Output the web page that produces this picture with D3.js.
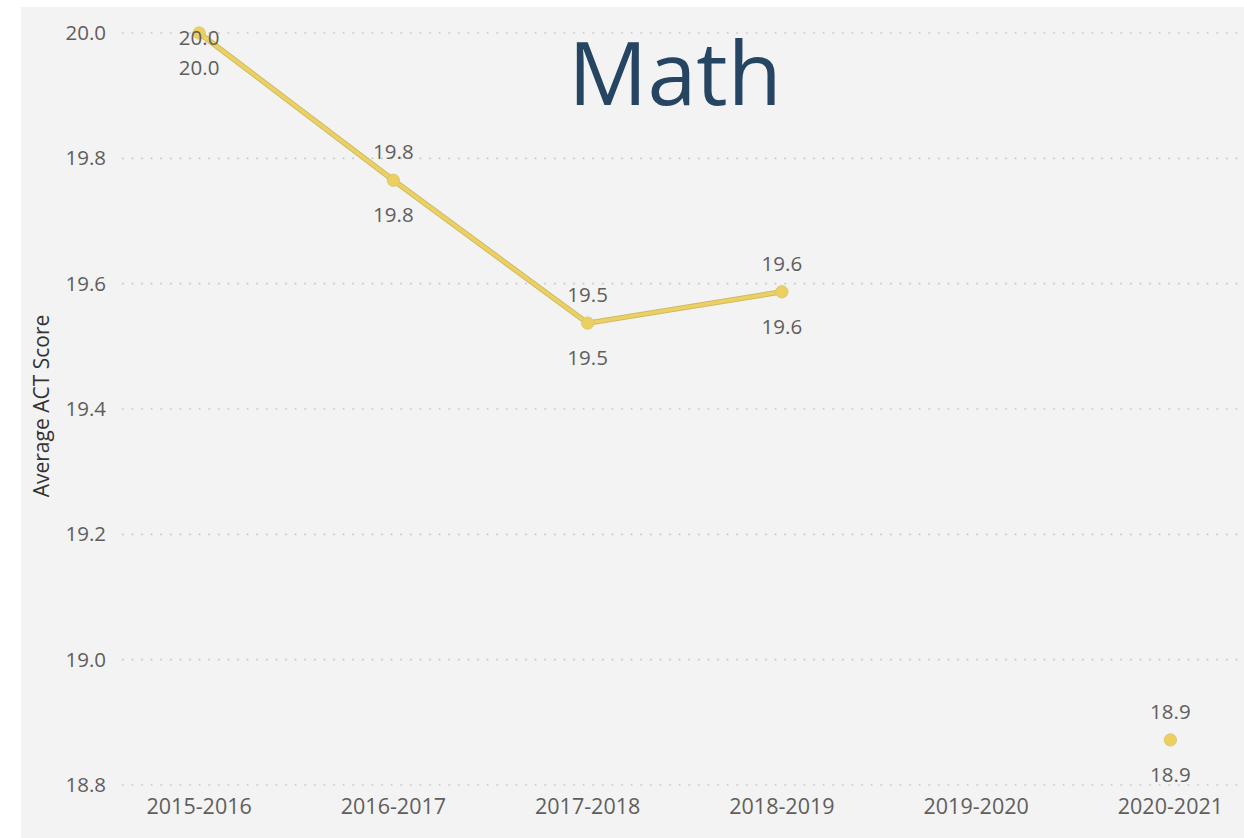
<!DOCTYPE html>
<html><head><meta charset="utf-8">
<script src="https://cdn.jsdelivr.net/npm/d3@7"></script>
<style>
html,body{margin:0;padding:0;background:#fff;}
svg{display:block;font-family:"Open Sans","Noto Sans",sans-serif;}
</style></head>
<body>
<svg id="chart" width="1244" height="838"></svg>
<script>
const categories = ["2015-2016","2016-2017","2017-2018","2018-2019","2019-2020","2020-2021"];
const seriesA = [20.0, 19.765, 19.537, 19.587, null, 18.872];
const seriesB = [20.0, 19.765, 19.537, 19.587, null, 18.872];
const yTicks = [18.8, 19.0, 19.2, 19.4, 19.6, 19.8, 20.0];
const title = "Math";
const yTitle = "Average ACT Score";

const svg = d3.select("#chart");
svg.append("rect").attr("x",21).attr("y",7).attr("width",1223).attr("height",831).attr("fill","#f3f3f3");

const x = d3.scaleBand().domain(categories).range([102, 1267.5]).padding(0);
const cx = d => x(d) + x.bandwidth()/2;
const y = d3.scaleLinear().domain([18.8, 20.0]).range([785, 33]);

const grid = svg.append("g");
grid.selectAll("line").data(yTicks).join("line")
  .attr("x1",122).attr("x2",1244)
  .attr("y1",d=>y(d)).attr("y2",d=>y(d))
  .attr("stroke","#c8c6c4").attr("stroke-width",1.6)
  .attr("stroke-dasharray","1.6,8");

const yAxis = svg.append("g").attr("transform","translate(106,0)")
  .call(d3.axisLeft(y).tickValues(yTicks).tickFormat(d3.format(".1f")).tickSize(0).tickPadding(0));
yAxis.select(".domain").remove();
yAxis.selectAll("text").attr("fill","#605e5c").attr("font-size",20.5).attr("font-family","Open Sans, Noto Sans, sans-serif");

const xAxis = svg.append("g").attr("transform","translate(0,796)")
  .call(d3.axisBottom(x).tickSize(0).tickPadding(0));
xAxis.select(".domain").remove();
xAxis.selectAll("text").attr("fill","#605e5c").attr("font-size",21.5).attr("dy","0.85em").attr("font-family","Open Sans, Noto Sans, sans-serif");

svg.append("text").attr("transform","translate(49,406) rotate(-90)")
  .attr("text-anchor","middle").attr("font-size",21).attr("fill","#333")
  .text(yTitle);

svg.append("text").attr("x",675).attr("y",105).attr("text-anchor","middle")
  .attr("font-size",88).attr("fill","#264563").text(title);

const line = d3.line().defined(d=>d.v!=null).x(d=>cx(d.c)).y(d=>y(d.v));
const dataA = categories.map((c,i)=>({c, v:seriesA[i]}));
const dataB = categories.map((c,i)=>({c, v:seriesB[i]}));

svg.append("path").datum(dataA).attr("d",line).attr("fill","none")
  .attr("stroke","#cdbb62").attr("stroke-width",5.5).attr("stroke-linejoin","round");
svg.append("path").datum(dataB).attr("d",line).attr("fill","none")
  .attr("stroke","#ecd064").attr("stroke-width",3.5).attr("stroke-linejoin","round");

const pts = dataA.filter(d=>d.v!=null);
svg.append("g").selectAll("circle").data(pts).join("circle")
  .attr("cx",d=>cx(d.c)).attr("cy",d=>y(d.v)).attr("r",6.2)
  .attr("fill","#ebcf60").attr("stroke","#d8c470").attr("stroke-width",0.8);

const fmt = d3.format(".1f");
svg.append("g").selectAll("text").data(pts).join("text")
  .attr("x",d=>cx(d.c)).attr("y",d=>Math.max(y(d.v)-28, 38))
  .attr("dy","0.35em").attr("text-anchor","middle")
  .attr("font-size",20.5).attr("fill","#605e5c").text(d=>fmt(d.v));
const ptsB = dataB.filter(d=>d.v!=null);
svg.append("g").selectAll("text").data(ptsB).join("text")
  .attr("x",d=>cx(d.c)).attr("y",d=>y(d.v)+35)
  .attr("dy","0.35em").attr("text-anchor","middle")
  .attr("font-size",20.5).attr("fill","#605e5c").text(d=>fmt(d.v));
</script>
</body></html>
